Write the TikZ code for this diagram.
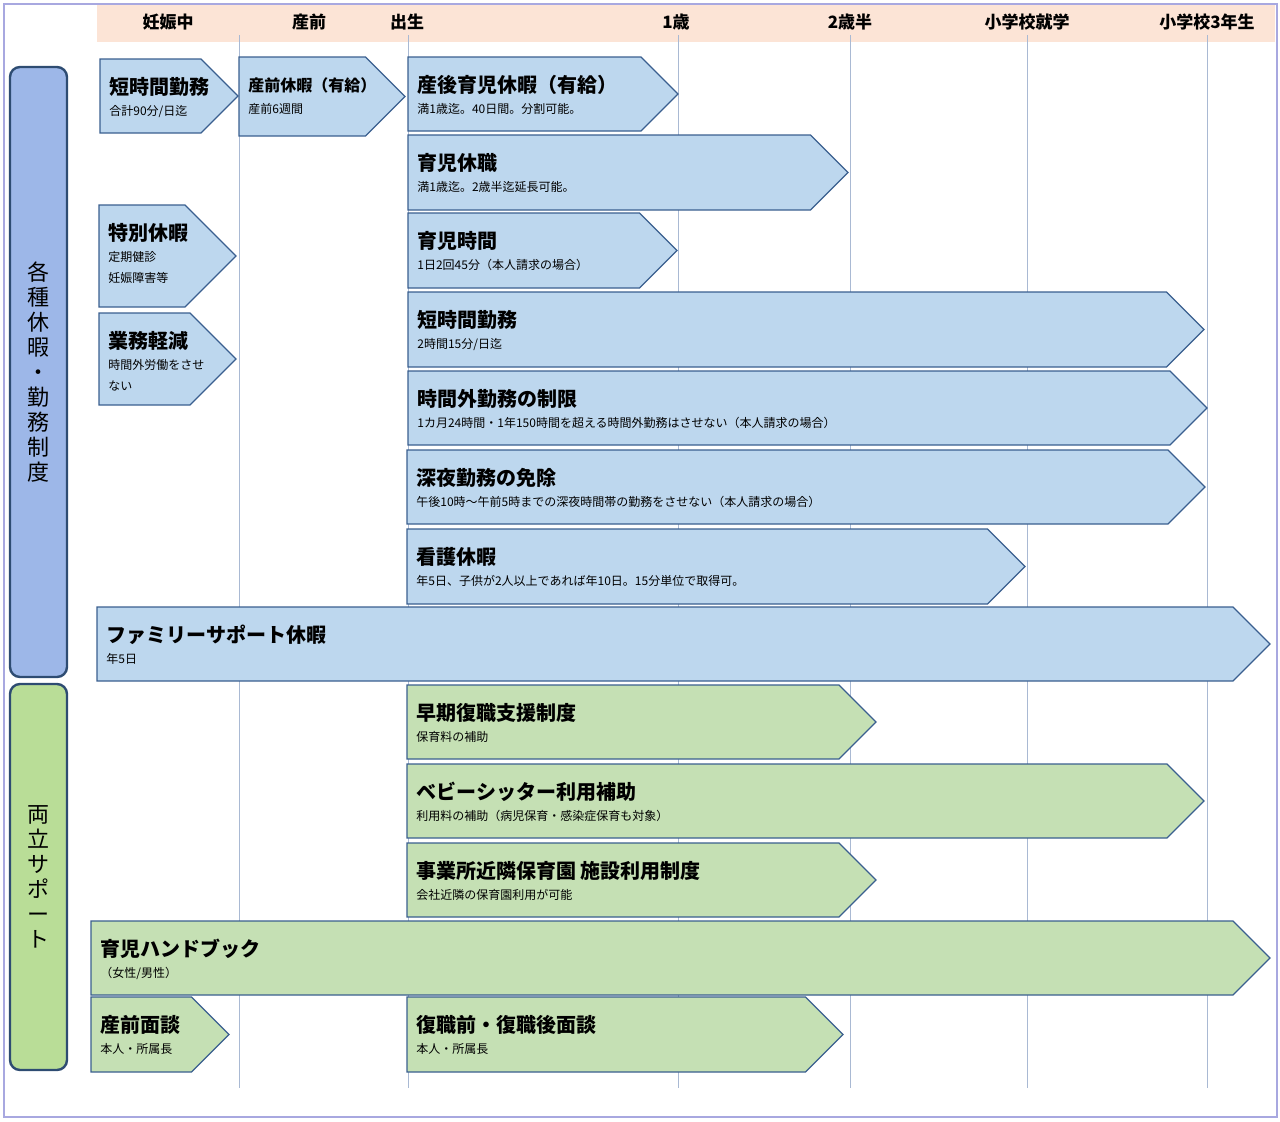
\documentclass[tikz,border=0pt]{standalone}
\usepackage{fontspec}
\setmainfont{Noto Sans CJK JP}
\usepackage{tikz}
\usetikzlibrary{positioning}
\definecolor{peach}{HTML}{FCE4D6}
\definecolor{skyfill}{HTML}{BDD7EE}
\definecolor{leaffill}{HTML}{C5E0B4}
\definecolor{edgeblue}{HTML}{3A5F8F}
\definecolor{gridline}{HTML}{A9B9D3}
\definecolor{sideblue}{HTML}{9DB7E8}
\definecolor{sidegreen}{HTML}{B9DD97}
\definecolor{frameline}{HTML}{A8A8E0}

% one arrow-shaped entry: name, x1, tip x, y1, y2, fill, title, sub
\newcommand{\policy}[8]{%
  \draw[boxline, fill=#6] (#2,#4) -- ({#3-(#5-#4)/2},#4) -- (#3,{(#4+#5)/2})
    -- ({#3-(#5-#4)/2},#5) -- (#2,#5) -- cycle;
  \node[titletext] (#1) at ({#2+9},{#4+28}) {#7};
  \node[subtext] (#1-sub) at ({#2+9},{#4+46}) {#8};
}

\begin{document}
\begin{tikzpicture}[
  x=0.5pt, y=-0.5pt,
  boxline/.style={draw=edgeblue, line width=0.6pt, line join=miter},
  titletext/.style={anchor=west, inner sep=0pt, font=\fontsize{10}{12}\selectfont\bfseries},
  subtext/.style={anchor=north west, inner sep=0pt, align=left, font=\fontsize{6}{10.5}\selectfont},
  headtext/.style={inner sep=0pt, font=\fontsize{8.5}{10}\selectfont\bfseries},
  sidebar/.style={draw=edgeblue!80!black, line width=1.2pt, rounded corners=5pt},
  sidetext/.style={align=center, inner sep=0pt, font=\fontsize{11}{12.5}\selectfont}
]
\useasboundingbox (0,0) rectangle (1280,1121);

% frame and header
\draw[frameline, line width=0.6pt] (4,4) rectangle (1277,1117);
\fill[peach] (97,5) rectangle (1275,42);
\foreach \gx in {239,408,678,850,1027,1207}
  \draw[gridline, line width=0.5pt] (\gx,35) -- (\gx,1088);

\node[headtext] (pregnant) at (168,22) {妊娠中};
\node[headtext] (prenatal) at (309,22) {産前};
\node[headtext] (birth) at (407,22) {出生};
\node[headtext] (age1) at (676,22) {1歳};
\node[headtext] (age25) at (850,22) {2歳半};
\node[headtext] (school) at (1027,22) {小学校就学};
\node[headtext] (grade3) at (1207,22) {小学校3年生};

% side labels
\draw[sidebar, fill=sideblue] (10,67) rectangle (67,677);
\node[sidetext] (leave) at (38,372) {各\\種\\休\\暇\\・\\勤\\務\\制\\度};
\draw[sidebar, fill=sidegreen] (10,684) rectangle (67,1070);
\node[sidetext] (support) at (38,877) {両\\立\\サ\\ポ\\ー\\ト};

% leave and work rules
\policy{shortA}{100}{238}{59}{133}{skyfill}{短時間勤務}{合計90分/日迄}
\policy{prenatal}{239}{405}{57}{136}{skyfill}{\fontsize{8}{10}\selectfont\bfseries 産前休暇（有給）}{産前6週間}
\policy{postnatal}{408}{678}{57}{131}{skyfill}{産後育児休暇（有給）}{満1歳迄。40日間。分割可能。}
\policy{childcare}{408}{848}{135}{210}{skyfill}{育児休職}{満1歳迄。2歳半迄延長可能。}
\policy{special}{99}{236}{205}{307}{skyfill}{特別休暇}{定期健診\\妊娠障害等}
\policy{nursing}{408}{677}{213}{288}{skyfill}{育児時間}{1日2回45分（本人請求の場合）}
\policy{lighter}{99}{236}{313}{405}{skyfill}{業務軽減}{時間外労働をさせ\\ない}
\policy{shortB}{408}{1204}{292}{367}{skyfill}{短時間勤務}{2時間15分/日迄}
\policy{overtime}{408}{1207}{371}{445}{skyfill}{時間外勤務の制限}{1カ月24時間・1年150時間を超える時間外勤務はさせない（本人請求の場合）}
\policy{night}{407}{1205}{450}{524}{skyfill}{深夜勤務の免除}{午後10時～午前5時までの深夜時間帯の勤務をさせない（本人請求の場合）}
\policy{sickcare}{407}{1025}{529}{604}{skyfill}{看護休暇}{年5日、子供が2人以上であれば年10日。15分単位で取得可。}
\policy{family}{97}{1270}{607}{681}{skyfill}{ファミリーサポート休暇}{年5日}

% work-life support
\policy{return}{407}{876}{685}{759}{leaffill}{早期復職支援制度}{保育料の補助}
\policy{sitter}{407}{1204}{764}{838}{leaffill}{ベビーシッター利用補助}{利用料の補助（病児保育・感染症保育も対象）}
\policy{nursery}{407}{876}{843}{917}{leaffill}{事業所近隣保育園 施設利用制度}{会社近隣の保育園利用が可能}
\policy{handbook}{91}{1270}{921}{995}{leaffill}{育児ハンドブック}{（女性/男性）}
\policy{preinterview}{91}{229}{997}{1072}{leaffill}{産前面談}{本人・所属長}
\policy{interview}{407}{843}{997}{1072}{leaffill}{復職前・復職後面談}{本人・所属長}

\end{tikzpicture}
\end{document}
